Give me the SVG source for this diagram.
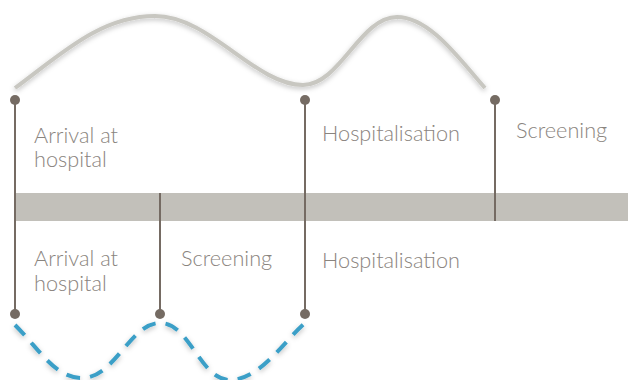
<svg xmlns="http://www.w3.org/2000/svg" width="628" height="380" viewBox="0 0 628 380">
<defs>
<filter id="sh" x="-10%" y="-30%" width="120%" height="160%">
<feDropShadow dx="0" dy="2" stdDeviation="2.5" flood-color="#000" flood-opacity="0.25"/>
</filter>
<style>
.lbl{font-family:Lato,"Noto Sans",sans-serif;font-weight:300;font-size:21.7px;fill:#8a847e}
.pin{stroke:#756b63;stroke-width:2;fill:none}
.dot{fill:#756b63}
.band{fill:#c2c0ba}
</style>
</defs>
<rect class="band" x="15" y="193" width="613" height="28"/>
<g id="connectors">
<path d="M15,88 C60,55 100,16 155,16 C210,16 255,85 303,85 C340,85 360,17 397,17 C430,17 460,60 485,88" fill="none" stroke="#c8c7c1" stroke-width="4" filter="url(#sh)"/>
<path d="M15,325 C40,350 55,378 82,378 C115,378 130,323 160,323 C190,323 200,380 230,380 C260,380 285,340 305,323" fill="none" stroke="#3b9fc7" stroke-width="4" stroke-dasharray="14,10" filter="url(#sh)"/>
</g>
<g id="pin-arrival"><line class="pin" x1="15" y1="100" x2="15" y2="314"/><circle class="dot" cx="15" cy="100" r="5"/><circle class="dot" cx="15" cy="314" r="5"/></g>
<g id="pin-hosp"><line class="pin" x1="305" y1="100" x2="305" y2="314"/><circle class="dot" cx="305" cy="100" r="5"/><circle class="dot" cx="305" cy="314" r="5"/></g>
<g id="pin-screen-top"><line class="pin" x1="495" y1="100" x2="495" y2="221"/><circle class="dot" cx="495" cy="100" r="5"/></g>
<g id="pin-screen-bottom"><line class="pin" x1="160" y1="193" x2="160" y2="314"/><circle class="dot" cx="160" cy="314" r="5"/></g>
<g id="label-arrival-top"><text class="lbl" x="34" y="143">Arrival at</text><text class="lbl" x="34" y="167">hospital</text></g>
<g id="label-hosp-top"><text class="lbl" x="322" y="141">Hospitalisation</text></g>
<g id="label-screen-top"><text class="lbl" x="516" y="138">Screening</text></g>
<g id="label-arrival-bottom"><text class="lbl" x="34" y="266">Arrival at</text><text class="lbl" x="34" y="291">hospital</text></g>
<g id="label-screen-bottom"><text class="lbl" x="181" y="266">Screening</text></g>
<g id="label-hosp-bottom"><text class="lbl" x="322" y="268">Hospitalisation</text></g>
</svg>
